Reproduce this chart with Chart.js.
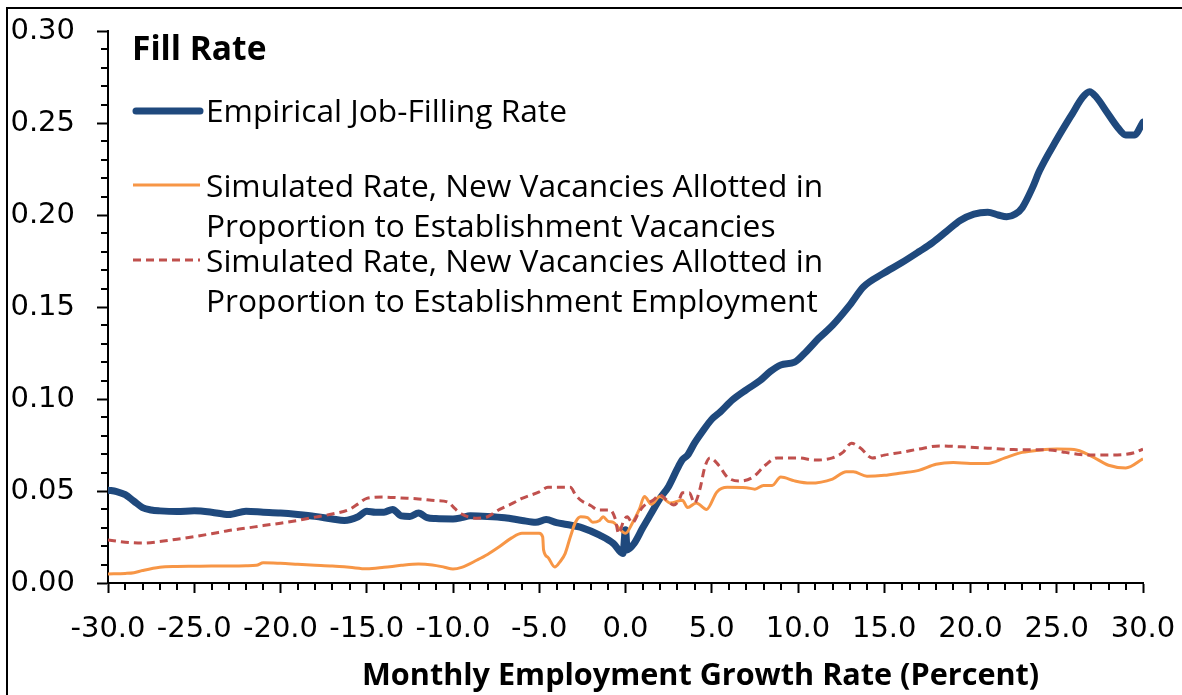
<!DOCTYPE html>
<html>
<head>
<meta charset="utf-8">
<script src="https://cdn.jsdelivr.net/npm/chart.js@4.4.0/dist/chart.umd.min.js"></script>
<style>
    html, body { margin: 0; padding: 0; background: #fff; overflow: hidden; }
    #wrap { position: relative; width: 1182px; height: 695px; overflow: hidden; }
    #frame { position: absolute; left: 6px; top: 7px; width: 1300px; height: 800px;
             border-left: 2px solid #000; border-top: 2px solid #000; }
    #chart { position: absolute; left: 0; top: 0; }
    .txt { position: absolute; font-family: "Open Sans", sans-serif; color: #000; white-space: nowrap; }
    .leg { font-size: 31.7px; line-height: 40px; }
    .swatch { position: absolute; }
</style>
</head>
<body>
<div id="wrap">
    <div id="frame"></div>
    <canvas id="chart" width="1182" height="695"></canvas>

    <div class="txt" style="left:132px; top:27px; font-size:33.5px; line-height:40px; font-weight:bold;">Fill Rate</div>

    <svg class="swatch" style="left:128px; top:100px;" width="80" height="22">
        <line x1="8" y1="11" x2="72" y2="11" stroke="#1F497D" stroke-width="7" stroke-linecap="round"/>
    </svg>
    <div class="txt leg" style="left:206px; top:90px;">Empirical Job-Filling Rate</div>

    <svg class="swatch" style="left:128px; top:175px;" width="80" height="20">
        <line x1="5" y1="10" x2="72" y2="10" stroke="#F79646" stroke-width="3"/>
    </svg>
    <div class="txt leg" style="left:206px; top:165px;">Simulated Rate, New Vacancies Allotted in<br>Proportion to Establishment Vacancies</div>

    <svg class="swatch" style="left:128px; top:250px;" width="80" height="20">
        <line x1="5" y1="10" x2="72" y2="10" stroke="#C0504D" stroke-width="3" stroke-dasharray="8 5"/>
    </svg>
    <div class="txt leg" style="left:206px; top:240px;">Simulated Rate, New Vacancies Allotted in<br>Proportion to Establishment Employment</div>

    <div class="txt" style="left:362px; top:653px; font-size:30.6px; line-height:40px; font-weight:bold;">Monthly Employment Growth Rate (Percent)</div>
</div>

<script>
// Empirical job-filling rate
const empX = [-30, -29.5, -29, -28.5, -28, -27.5, -27, -26, -25, -24, -23, -22, -21, -20, -19, -18, -17,
    -16.3, -15.5, -15, -14.5, -14, -13.5, -13, -12.5, -12, -11.5, -11, -10, -9.5, -9, -8, -7, -6, -5.2,
    -4.6, -4, -3.4, -2.5, -1.5, -0.7, -0.15, 0, 0.1, 0.5, 1, 1.5, 2, 2.5, 3, 3.3, 3.6, 4, 4.4, 5, 5.5,
    6.2, 7, 7.8, 8.4, 9, 9.8, 10.5, 11.2, 12, 13, 13.8, 14.9, 16, 17, 17.8, 18.6, 19.4, 20.2, 21, 21.6,
    22.1, 22.6, 23, 23.6, 24, 25, 25.9, 26.5, 26.9, 27.3, 27.9, 28.5, 29, 29.5, 30];
const empY = [0.0505, 0.0497, 0.048, 0.0445, 0.041, 0.0397, 0.0392, 0.0388, 0.0392, 0.0385, 0.0372, 0.039,
    0.0385, 0.038, 0.0372, 0.0362, 0.0348, 0.034, 0.036, 0.039, 0.0385, 0.0385, 0.040, 0.0365, 0.0362,
    0.038, 0.0355, 0.035, 0.0348, 0.0355, 0.0365, 0.0362, 0.0355, 0.034, 0.033, 0.0345, 0.0328, 0.0318,
    0.030, 0.026, 0.0215, 0.016, 0.029, 0.018, 0.0215, 0.030, 0.038, 0.046, 0.0525, 0.062, 0.067, 0.0695,
    0.076, 0.0815, 0.089, 0.093, 0.0995, 0.105, 0.110, 0.115, 0.1185, 0.120, 0.126, 0.133, 0.140, 0.151,
    0.161, 0.168, 0.174, 0.180, 0.185, 0.191, 0.197, 0.2005, 0.2015, 0.200, 0.199, 0.2005, 0.204, 0.215,
    0.224, 0.241, 0.255, 0.264, 0.267, 0.264, 0.256, 0.248, 0.2435, 0.2435, 0.2505];

// Simulated, vacancies allotted by establishment vacancies
const vacX = [-30, -29, -28.5, -28, -27, -26, -25, -24, -23, -22, -21.4, -21, -20, -19, -18, -17, -16, -15,
    -14, -13, -12, -11.2, -10.5, -10, -9.5, -8.6, -8, -7.3, -6.6, -6, -5, -4.8, -4.75, -4.5, -4.1, -3.8,
    -3.5, -3.2, -2.9, -2.6, -2.2, -1.9, -1.5, -1.3, -1, -0.7, -0.4, 0, 0.4, 0.8, 1.1, 1.5, 2, 2.6, 3.3,
    3.6, 4.1, 4.7, 5.3, 5.9, 7, 7.5, 8, 8.5, 9, 9.8, 10.7, 12, 12.8, 13.2, 14, 15, 16, 17, 18, 19, 20,
    21, 22, 23, 24, 25, 26, 27, 28, 29, 30];
const vacY = [0.0049, 0.0052, 0.0056, 0.0068, 0.0086, 0.0090, 0.0091, 0.0092, 0.0092, 0.0094, 0.0096, 0.011,
    0.0107, 0.0102, 0.0097, 0.0092, 0.0085, 0.0077, 0.0085, 0.0096, 0.0103, 0.0098, 0.0086, 0.0076, 0.0085,
    0.0125, 0.0155, 0.0198, 0.0245, 0.027, 0.027, 0.025, 0.018, 0.014, 0.0087, 0.0115, 0.016, 0.025, 0.033,
    0.036, 0.0355, 0.033, 0.034, 0.036, 0.0335, 0.033, 0.030, 0.027, 0.0326, 0.040, 0.047, 0.0428, 0.047,
    0.0435, 0.045, 0.041, 0.0435, 0.040, 0.0495, 0.052, 0.0518, 0.051, 0.053, 0.053, 0.0576, 0.0555, 0.0543,
    0.0565, 0.0605, 0.0605, 0.058, 0.0585, 0.0598, 0.0612, 0.0645, 0.0655, 0.065, 0.065, 0.068, 0.071, 0.0722,
    0.0728, 0.0726, 0.069, 0.064, 0.0625, 0.0675];

// Simulated, vacancies allotted by establishment employment
const empAllotX = [-30, -29, -28, -27, -26, -25, -24, -23, -22, -21, -20, -19, -18, -17, -16, -15.5, -15, -14,
    -13, -12, -11, -10.3, -9.9, -9.5, -8.6, -8, -7.3, -6.5, -6, -5, -4.5, -3.2, -2.9, -2.6, -2, -1.6, -0.9,
    -0.6, -0.4, -0.1, 0.1, 0.4, 0.7, 1.0, 1.6, 2.0, 2.4, 2.8, 3.1, 3.3, 3.7, 4.0, 4.3, 4.6, 4.9, 5.4, 5.9,
    6.6, 7.4, 8.1, 8.8, 10, 11, 12, 12.6, 13.1, 13.6, 14.3, 15, 16, 17, 18.2, 19.5, 21, 22.5, 24.6, 25.5,
    26.2, 27, 28.5, 29.5, 30];
const empAllotY = [0.0234, 0.0222, 0.0217, 0.0225, 0.0238, 0.0252, 0.0268, 0.0285, 0.0298, 0.0312, 0.0325,
    0.034, 0.0358, 0.0375, 0.040, 0.043, 0.046, 0.0467, 0.0462, 0.0457, 0.0448, 0.044, 0.0405, 0.0375, 0.0352,
    0.036, 0.040, 0.0435, 0.046, 0.0495, 0.052, 0.052, 0.048, 0.045, 0.042, 0.0397, 0.0397, 0.035, 0.027,
    0.034, 0.036, 0.0326, 0.037, 0.0413, 0.045, 0.0478, 0.045, 0.0424, 0.045, 0.049, 0.049, 0.0435, 0.0505,
    0.063, 0.068, 0.064, 0.0576, 0.0554, 0.0576, 0.064, 0.068, 0.068, 0.0668, 0.068, 0.071, 0.076, 0.0735,
    0.068, 0.0695, 0.071, 0.0728, 0.0745, 0.074, 0.0733, 0.0725, 0.0723, 0.071, 0.070, 0.0695, 0.0696,
    0.0708, 0.0728];

function toPoints(xs, ys) {
    return xs.map((x, i) => ({ x: x, y: ys[i] }));
}

// Minor tick marks on both axes
const minorTicks = {
    id: 'minorTicks',
    afterDraw(chart) {
        const ctx = chart.ctx;
        const x = chart.scales.x;
        const y = chart.scales.y;
        const area = chart.chartArea;
        ctx.save();
        ctx.strokeStyle = '#000';
        ctx.lineWidth = 2;
        ctx.beginPath();
        for (let v = -30; v <= 30; v++) {
            if (v % 5 === 0) continue;
            const px = Math.round(x.getPixelForValue(v));
            ctx.moveTo(px, area.bottom);
            ctx.lineTo(px, area.bottom + 7);
        }
        for (let i = 0; i <= 30; i++) {
            if (i % 5 === 0) continue;
            const py = Math.round(y.getPixelForValue(i / 100));
            ctx.moveTo(area.left, py);
            ctx.lineTo(area.left - 7, py);
        }
        ctx.stroke();
        ctx.restore();
    }
};

const tickFont = { family: 'DejaVu Sans', size: 29 };

new Chart(document.getElementById('chart'), {
    type: 'line',
    data: {
        datasets: [
            {
                label: 'Empirical Job-Filling Rate',
                data: toPoints(empX, empY),
                borderColor: '#1F497D',
                borderWidth: 7,
                pointRadius: 0,
                cubicInterpolationMode: 'monotone',
                borderCapStyle: 'round',
                borderJoinStyle: 'round',
                order: 3
            },
            {
                label: 'Simulated Rate, New Vacancies Allotted in Proportion to Establishment Vacancies',
                data: toPoints(vacX, vacY),
                borderColor: '#F79646',
                borderWidth: 3,
                pointRadius: 0,
                cubicInterpolationMode: 'monotone',
                order: 2
            },
            {
                label: 'Simulated Rate, New Vacancies Allotted in Proportion to Establishment Employment',
                data: toPoints(empAllotX, empAllotY),
                borderColor: '#C0504D',
                borderWidth: 3,
                borderDash: [8, 5],
                pointRadius: 0,
                cubicInterpolationMode: 'monotone',
                order: 1
            }
        ]
    },
    options: {
        responsive: false,
        animation: false,
        layout: { padding: { left: 0, right: 39, top: 31, bottom: 0 } },
        plugins: {
            legend: { display: false },
            tooltip: { enabled: false }
        },
        scales: {
            x: {
                type: 'linear',
                min: -30,
                max: 30,
                ticks: {
                    stepSize: 5,
                    autoSkip: false,
                    maxRotation: 0,
                    color: '#000',
                    font: tickFont,
                    padding: 19,
                    callback: v => v.toFixed(1)
                },
                grid: { drawOnChartArea: false, tickLength: 10, tickColor: '#000', tickWidth: 2 },
                border: { color: '#000', width: 2 },
                afterFit(scale) {
                    scale.height = 112;
                    scale.paddingLeft = 0;
                    scale.paddingRight = 0;
                }
            },
            y: {
                min: 0,
                max: 0.3,
                ticks: {
                    stepSize: 0.05,
                    color: '#000',
                    font: tickFont,
                    padding: 22,
                    callback: v => v.toFixed(2)
                },
                grid: { drawOnChartArea: false, tickLength: 11, tickColor: '#000', tickWidth: 2 },
                border: { color: '#000', width: 2 },
                afterFit(scale) {
                    scale.width = 108;
                    scale.paddingTop = 0;
                    scale.paddingBottom = 0;
                }
            }
        }
    },
    plugins: [minorTicks]
});
</script>
</body>
</html>
